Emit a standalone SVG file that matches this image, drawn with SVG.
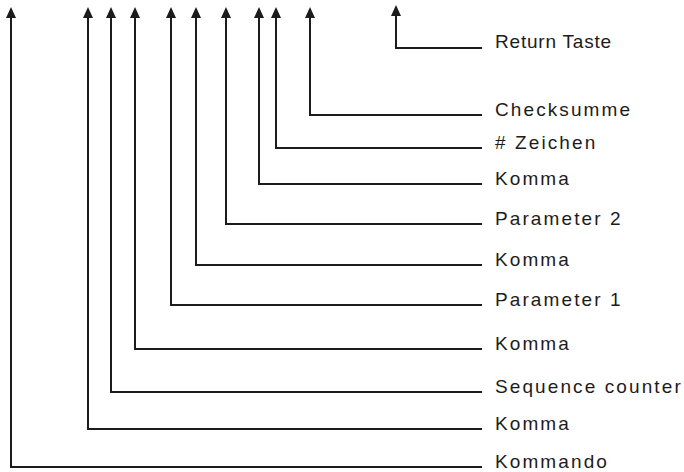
<svg xmlns="http://www.w3.org/2000/svg" width="684" height="472" viewBox="0 0 684 472">
<style>
.c{fill:none;stroke:#1e1b1c;stroke-width:2}
.t{font-family:"Liberation Sans",Arial,sans-serif;font-size:19px;fill:#1e1b1c;letter-spacing:2.1px}
</style>
<rect width="684" height="472" fill="#ffffff"/>
<g id="connectors">
<path class="c" d="M482,48 H396 V12"/>
<path class="c" d="M482,115 H310 V14"/>
<path class="c" d="M482,148 H276 V14"/>
<path class="c" d="M482,184 H259 V14"/>
<path class="c" d="M482,224 H226 V14"/>
<path class="c" d="M482,265 H196 V14"/>
<path class="c" d="M482,305 H171 V14"/>
<path class="c" d="M482,349 H135 V14"/>
<path class="c" d="M482,392 H111 V14"/>
<path class="c" d="M482,429 H88 V14"/>
<path class="c" d="M482,467 H11 V14"/>
<g fill="#1e1b1c">
<path d="M391,16 L396,5 L401,16 Z"/>
<path d="M305,18 L310,7 L315,18 Z"/>
<path d="M271,18 L276,7 L281,18 Z"/>
<path d="M254,18 L259,7 L264,18 Z"/>
<path d="M221,18 L226,7 L231,18 Z"/>
<path d="M191,18 L196,7 L201,18 Z"/>
<path d="M166,18 L171,7 L176,18 Z"/>
<path d="M130,18 L135,7 L140,18 Z"/>
<path d="M106,18 L111,7 L116,18 Z"/>
<path d="M83,18 L88,7 L93,18 Z"/>
<path d="M6,18 L11,7 L16,18 Z"/>
</g>
</g>
<g id="n-return"><text class="t" x="495" y="48" style="letter-spacing:0.8px">Return Taste</text></g>
<g id="n-checksumme"><text class="t" x="495" y="116">Checksumme</text></g>
<g id="n-zeichen"><text class="t" x="495" y="149"># Zeichen</text></g>
<g id="n-komma4"><text class="t" x="495" y="185">Komma</text></g>
<g id="n-param2"><text class="t" x="495" y="225">Parameter 2</text></g>
<g id="n-komma3"><text class="t" x="495" y="266">Komma</text></g>
<g id="n-param1"><text class="t" x="495" y="306">Parameter 1</text></g>
<g id="n-komma2"><text class="t" x="495" y="350">Komma</text></g>
<g id="n-seq"><text class="t" x="495" y="393">Sequence counter</text></g>
<g id="n-komma1"><text class="t" x="495" y="430">Komma</text></g>
<g id="n-kommando"><text class="t" x="495" y="468">Kommando</text></g>
</svg>
